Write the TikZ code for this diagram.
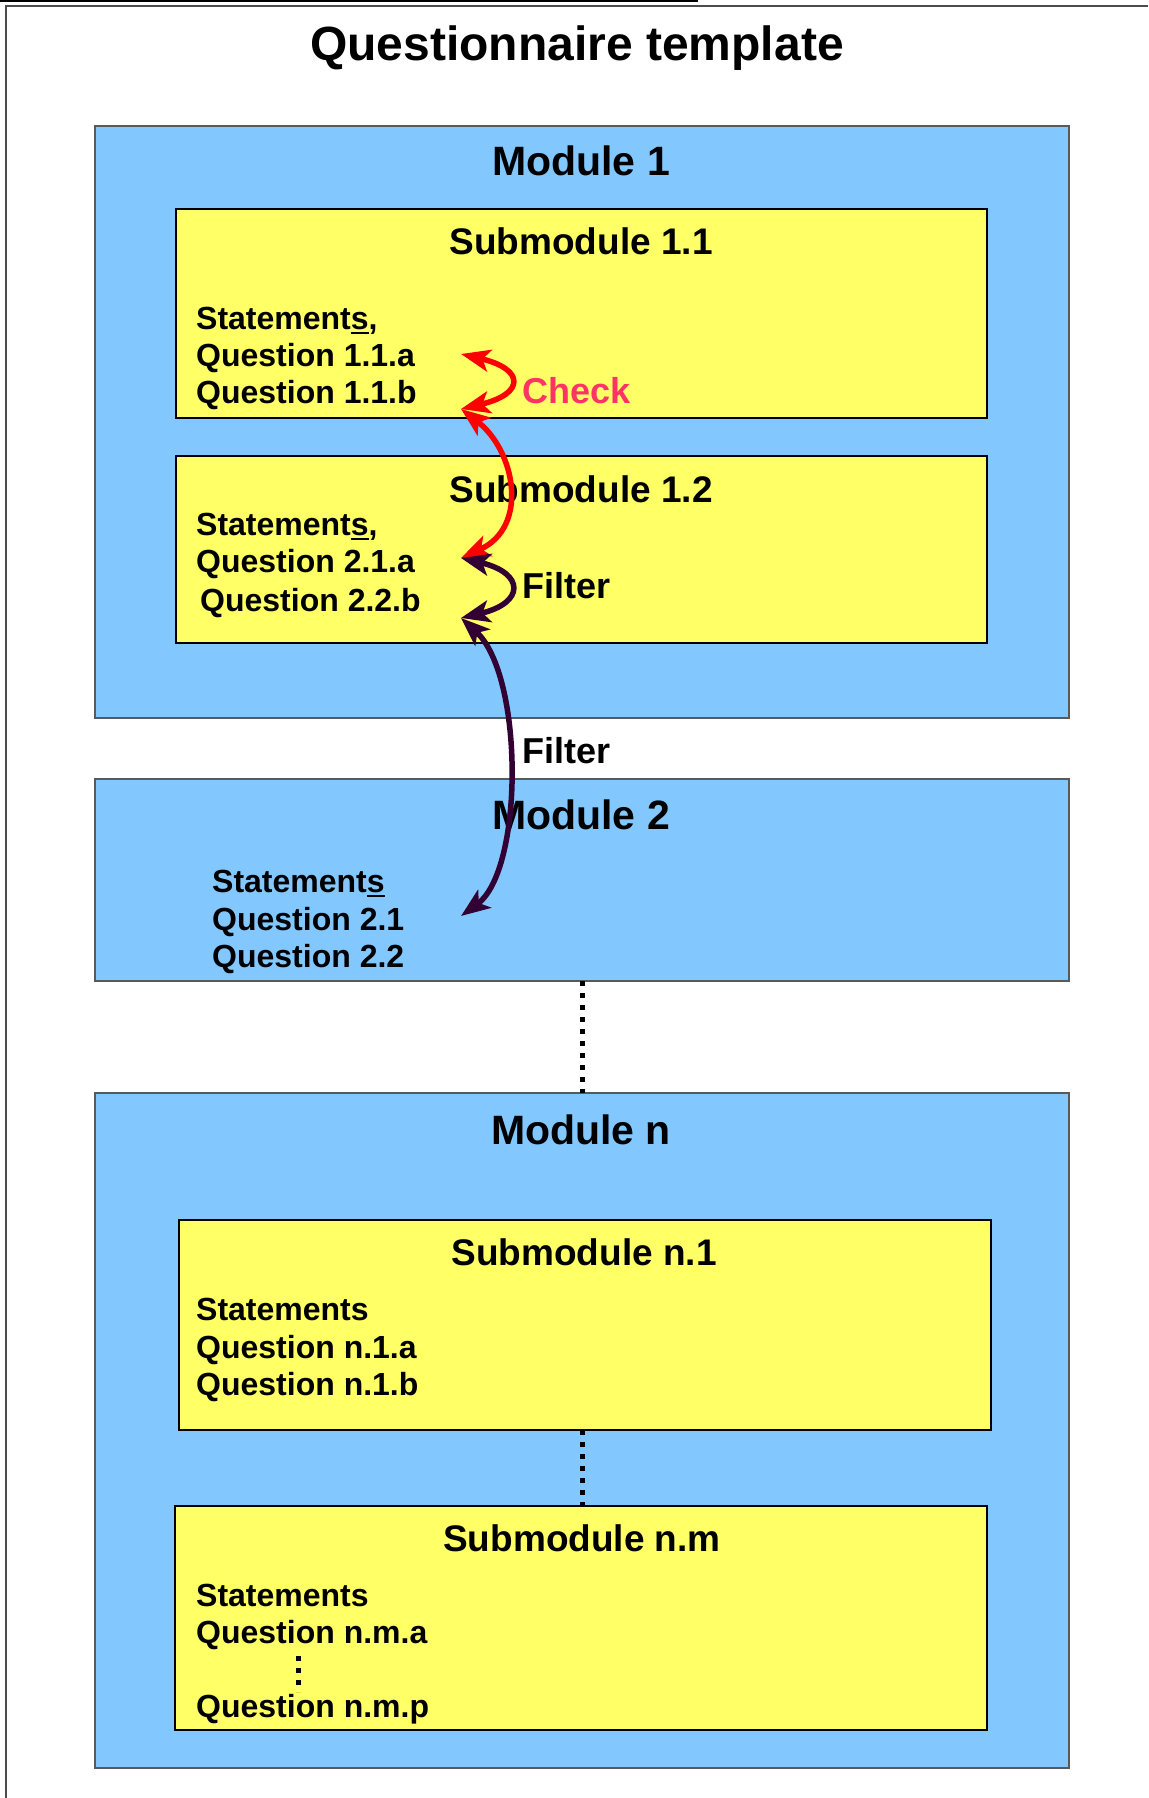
\documentclass[tikz,border=0pt]{standalone}
\usepackage{fontspec}
\setmainfont{Liberation Sans}
\usetikzlibrary{arrows.meta}
\definecolor{modblue}{HTML}{82C8FF}
\definecolor{subyel}{HTML}{FFFF66}
\definecolor{chktext}{HTML}{FF3366}
\definecolor{fltcol}{HTML}{330033}
\newcommand{\myuline}[1]{\setbox0\hbox{#1}\rlap{\rule[-5pt]{\wd0}{2.5pt}}\box0}
\begin{document}
\begin{tikzpicture}[x=1pt,y=-1pt,
  module/.style={draw=black!65,line width=1.6pt,fill=modblue,anchor=north west,inner sep=0pt,outer sep=0pt},
  submod/.style={draw=black,line width=1.4pt,fill=subyel,anchor=north west,inner sep=0pt,outer sep=0pt},
  titletext/.style={font=\fontsize{48}{56}\selectfont\bfseries,anchor=base,inner sep=0pt},
  modtext/.style={font=\fontsize{41}{48}\selectfont\bfseries,anchor=base,inner sep=0pt},
  subtext/.style={font=\fontsize{37}{44}\selectfont\bfseries,anchor=base,inner sep=0pt},
  qline/.style={font=\fontsize{32}{38}\selectfont\bfseries,anchor=base west,inner sep=0pt},
  lbl/.style={font=\fontsize{36}{42}\selectfont\bfseries,anchor=base west,inner sep=0pt},
  dotline/.style={line width=5pt,dash pattern=on 5pt off 7pt},
  arrowcurve/.style={line width=5.5pt,
    arrows={Stealth[length=29pt,width=22pt,inset=7pt]-Stealth[length=29pt,width=22pt,inset=7pt]}},
  chkarrow/.style={arrowcurve,draw=red},
  fltarrow/.style={arrowcurve,draw=fltcol},
]
\useasboundingbox (0,0) rectangle (1148,1798);
% page frame and cut-off line at top
\draw[line width=2pt] (0,1) -- (698,1);
\draw[black!70,line width=1.5pt] (6,1798) -- (6,6) -- (1148,6);

\node[titletext] (title) at (577,61) {Questionnaire template};

% Module 1
\node[module,minimum width=974pt,minimum height=592pt] (m1) at (95,126) {};
\node[modtext] (m1t) at (581,176) {Module 1};
\node[submod,minimum width=811pt,minimum height=209pt] (s11) at (176,209) {};
\node[subtext] (s11t) at (581,254) {Submodule 1.1};
\node[qline] (s11a) at (196,329) {Statement\myuline{s},};
\node[qline] (s11b) at (196,366) {Question 1.1.a};
\node[qline] (s11c) at (196,403) {Question 1.1.b};
\node[lbl,text=chktext] (check) at (522,403) {Check};

\node[submod,minimum width=811pt,minimum height=187pt] (s12) at (176,456) {};
\node[subtext] (s12t) at (581,502) {Submodule 1.2};
\node[qline] (s12a) at (196,535) {Statement\myuline{s},};
\node[qline] (s12b) at (196,572) {Question 2.1.a};
\node[qline] (s12c) at (200,611) {Question 2.2.b};
\node[lbl] (filter1) at (522,598) {Filter};

\node[lbl] (filter2) at (522,763) {Filter};

% Module 2
\node[module,minimum width=974pt,minimum height=202pt] (m2) at (95,779) {};
\node[modtext] (m2t) at (581,829) {Module 2};
\node[qline] (m2a) at (212,892) {Statement\myuline{s}};
\node[qline] (m2b) at (212,930) {Question 2.1};
\node[qline] (m2c) at (212,967) {Question 2.2};

% Module n
\node[module,minimum width=974pt,minimum height=675pt] (mn) at (95,1093) {};
\node[modtext] (mnt) at (581,1144) {Module n};
\node[submod,minimum width=812pt,minimum height=210pt] (sn1) at (179,1220) {};
\node[subtext] (sn1t) at (584,1265) {Submodule n.1};
\node[qline] (sn1a) at (196,1320) {Statements};
\node[qline] (sn1b) at (196,1358) {Question n.1.a};
\node[qline] (sn1c) at (196,1395) {Question n.1.b};

\node[submod,minimum width=812pt,minimum height=224pt] (snm) at (175,1506) {};
\node[subtext] (snmt) at (582,1551) {Submodule n.m};
\node[qline] (snma) at (196,1606) {Statements};
\node[qline] (snmb) at (196,1643) {Question n.m.a};
\node[qline] (snmc) at (196,1717) {Question n.m.p};

% dotted connectors
\coordinate (dx) at (582,0);
\draw[dotline] (m2.south -| dx) -- (mn.north -| dx);
\draw[dotline] (sn1.south -| dx) -- (snm.north -| dx);
\coordinate (v1) at (298,1656);
\coordinate (v2) at (298,1692);
\draw[dotline] (v1) -- (v2);

% arrows
\coordinate (a1) at (461,354);
\coordinate (a2) at (461,409);
\coordinate (a3) at (461,558);
\coordinate (a4) at (461,618);
\coordinate (a5) at (461,916);
\draw[chkarrow] (a1) .. controls (525,369) and (525,394) .. (a2);
\draw[chkarrow] (a2) .. controls (515,450) and (530,527) .. (a3);
\draw[fltarrow] (a3) .. controls (525,573) and (525,603) .. (a4);
\draw[fltarrow] (a4) .. controls (524,675) and (524,870) .. (a5);
\end{tikzpicture}
\end{document}
